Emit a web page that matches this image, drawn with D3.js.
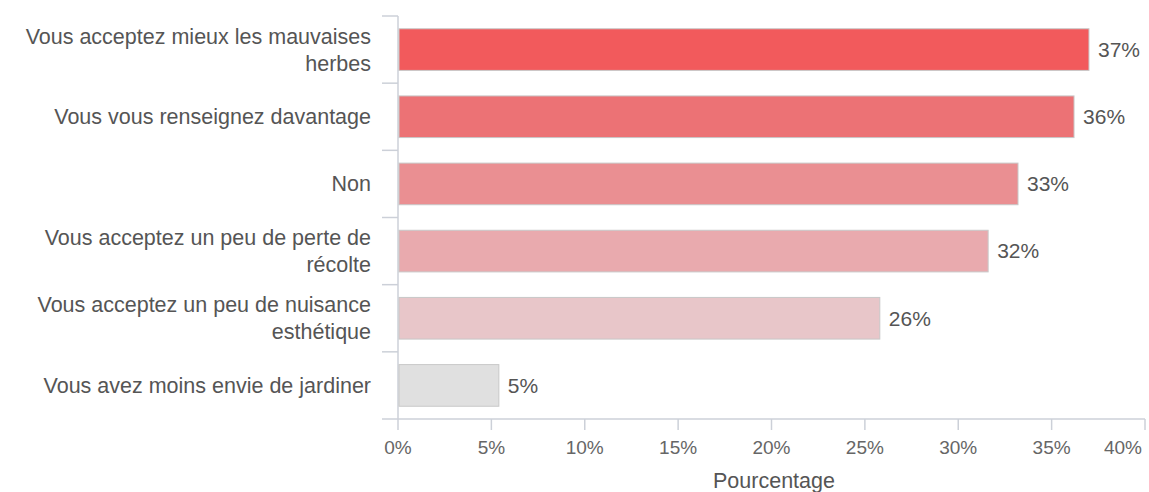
<!DOCTYPE html>
<html>
<head>
<meta charset="utf-8">
<script src="https://cdn.jsdelivr.net/npm/d3@7"></script>
<style>
  body { margin: 0; background: #fff; }
  text { font-family: 'Liberation Sans', Arial, sans-serif; }
</style>
</head>
<body>
<div id="chart"></div>
<script>
const categories = [
  'Vous acceptez mieux les mauvaises herbes',
  'Vous vous renseignez davantage',
  'Non',
  'Vous acceptez un peu de perte de récolte',
  'Vous acceptez un peu de nuisance esthétique',
  'Vous avez moins envie de jardiner'
]
const labelLines = [
  ['Vous acceptez mieux les mauvaises', 'herbes'],
  ['Vous vous renseignez davantage'],
  ['Non'],
  ['Vous acceptez un peu de perte de', 'récolte'],
  ['Vous acceptez un peu de nuisance', 'esthétique'],
  ['Vous avez moins envie de jardiner']
]
const values = [37.0, 36.2, 33.2, 31.6, 25.8, 5.4]
const valueLabels = ['37%', '36%', '33%', '32%', '26%', '5%']
const colors = ['#f25a5c', '#ec7275', '#ea8f92', '#e9aaae', '#e8c6c9', '#e0e0e0']
const xTicks = [0, 5, 10, 15, 20, 25, 30, 35, 40]

const margin = { top: 16, left: 398, right: 4, bottom: 73 }
const width = 1149 - margin.left - margin.right
const height = 492 - margin.top - margin.bottom

const svg = d3
  .select('#chart')
  .append('svg')
  .attr('width', 1149)
  .attr('height', 492)
  .append('g')
  .attr('transform', `translate(${margin.left},${margin.top})`)

const xScale = d3.scaleLinear().domain([0, 40]).range([0, 747])
const yScale = d3
  .scaleBand()
  .domain(categories)
  .range([0, height])
  .paddingInner(0.38)
  .paddingOuter(0.19)

const axisColor = '#ccd0d8'

// y axis line + ticks between bands
svg
  .append('line')
  .attr('x1', 0)
  .attr('x2', 0)
  .attr('y1', 0)
  .attr('y2', height)
  .attr('stroke', axisColor)
  .attr('stroke-width', 1.5)

const bounds = d3.range(categories.length).map(i => i * yScale.step())
svg
  .selectAll('.y-tick')
  .data(bounds)
  .enter()
  .append('line')
  .attr('x1', -16)
  .attr('x2', 0)
  .attr('y1', d => d)
  .attr('y2', d => d)
  .attr('stroke', axisColor)
  .attr('stroke-width', 1.5)

// x axis
svg
  .append('line')
  .attr('x1', -16)
  .attr('x2', width)
  .attr('y1', height)
  .attr('y2', height)
  .attr('stroke', axisColor)
  .attr('stroke-width', 1.5)

svg
  .selectAll('.x-tick')
  .data(xTicks)
  .enter()
  .append('line')
  .attr('x1', d => xScale(d))
  .attr('x2', d => xScale(d))
  .attr('y1', height)
  .attr('y2', height + 11)
  .attr('stroke', axisColor)
  .attr('stroke-width', 1.5)

svg
  .selectAll('.x-label')
  .data(xTicks)
  .enter()
  .append('text')
  .text(d => d + '%')
  .attr('x', d => Math.min(xScale(d), width - 22))
  .attr('y', height + 28)
  .attr('dy', '0.35em')
  .attr('text-anchor', 'middle')
  .attr('font-size', 19)
  .attr('fill', '#666')

svg
  .append('text')
  .text('Pourcentage')
  .attr('x', 376)
  .attr('y', height + 69)
  .attr('text-anchor', 'middle')
  .attr('font-size', 21.5)
  .attr('fill', '#555')

// bars
svg
  .selectAll('.bar')
  .data(values)
  .enter()
  .append('rect')
  .attr('x', 1)
  .attr('y', (d, i) => yScale(categories[i]))
  .attr('width', d => xScale(d) - 1)
  .attr('height', yScale.bandwidth())
  .attr('fill', (d, i) => colors[i])
  .attr('stroke', '#c8c8c8')
  .attr('stroke-width', 1)

// value labels
svg
  .selectAll('.value-label')
  .data(values)
  .enter()
  .append('text')
  .text((d, i) => valueLabels[i])
  .attr('x', d => xScale(d) + 9)
  .attr('y', (d, i) => yScale(categories[i]) + yScale.bandwidth() / 2)
  .attr('dy', '0.35em')
  .attr('font-size', 21)
  .attr('fill', '#555')

// category labels
svg
  .selectAll('.cat-label')
  .data(labelLines)
  .enter()
  .append('text')
  .attr('text-anchor', 'end')
  .attr('font-size', 21.5)
  .attr('fill', '#555')
  .each(function(lines, i) {
    const cy = yScale(categories[i]) + yScale.bandwidth() / 2
    const lh = 27
    const y0 = cy - ((lines.length - 1) * lh) / 2
    lines.forEach((l, j) => {
      d3.select(this)
        .append('tspan')
        .attr('x', -27)
        .attr('y', y0 + j * lh)
        .attr('dy', '0.35em')
        .text(l)
    })
  })
</script>
</body>
</html>
